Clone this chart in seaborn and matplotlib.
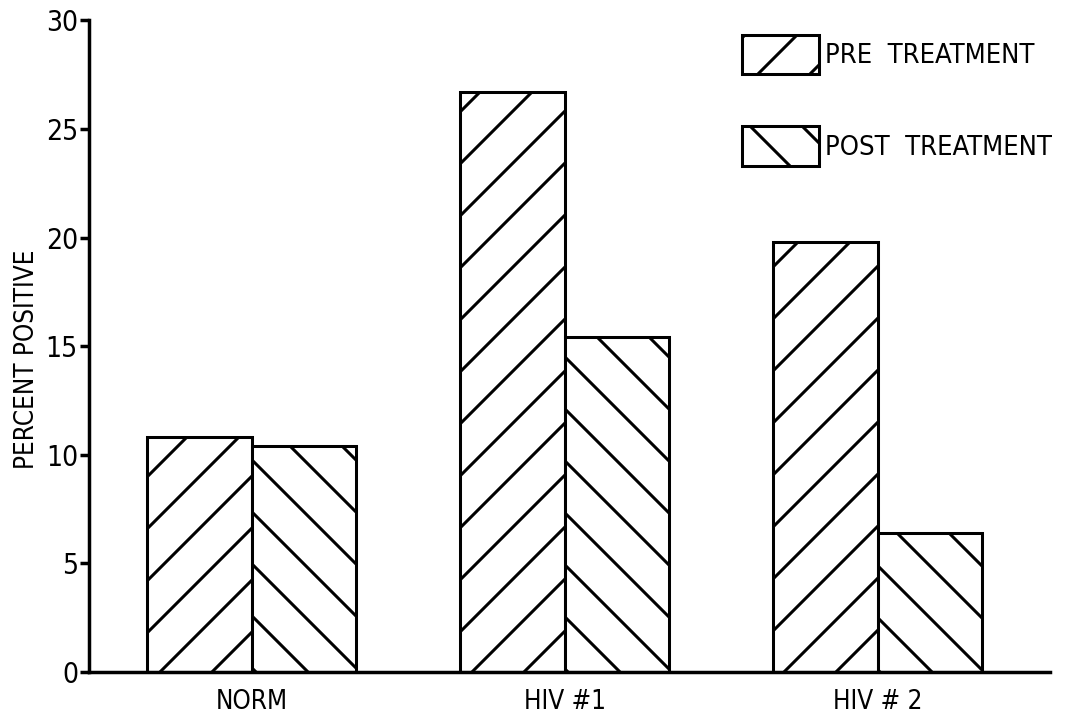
import numpy as np
import pandas as pd
import matplotlib
matplotlib.use('Agg')
import matplotlib.pyplot as plt
import seaborn as sns

groups = ['NORM', 'HIV #1', 'HIV # 2']
treatments = ['PRE  TREATMENT', 'POST  TREATMENT']
pre_values = [10.8, 26.7, 19.8]
post_values = [10.4, 15.4, 6.4]

df = pd.DataFrame({
    'group': groups * 2,
    'treatment': [treatments[0]] * 3 + [treatments[1]] * 3,
    'percent': pre_values + post_values,
})

sns.set_style('ticks')
plt.rcParams['font.family'] = ['DejaVu Sans']
plt.rcParams['font.stretch'] = 'condensed'
plt.rcParams['text.color'] = 'black'
plt.rcParams['xtick.color'] = 'black'
plt.rcParams['ytick.color'] = 'black'
plt.rcParams['axes.labelcolor'] = 'black'
plt.rcParams['hatch.linewidth'] = 0.7
plt.rcParams['hatch.color'] = 'black'

# high dpi so the hatch tile gives wide-spaced lines like the scan
DPI = 312
fig = plt.figure(figsize=(1070 / DPI, 724 / DPI), dpi=DPI)
ax = fig.add_axes([0.083, 0.0718, 0.898, 0.9002])

sns.barplot(data=df, x='group', y='percent', hue='treatment', order=groups,
            hue_order=treatments, width=0.67, color='white', saturation=1,
            edgecolor='black', linewidth=0.7, errorbar=None, legend=False, ax=ax)

hatches = ['//', '\\\\']
for cont, h in zip(ax.containers, hatches):
    for bar in cont:
        bar.set_facecolor('white')
        bar.set_hatch(h)

ax.set_xlim(-0.52, 2.55)
ax.set_ylim(0, 30)
ax.set_yticks([0, 5, 10, 15, 20, 25, 30])
ax.set_xlabel('')
ax.set_ylabel('PERCENT POSITIVE', fontsize=6)
ax.yaxis.set_label_coords(-0.051, 0.48)
sns.despine(ax=ax)
for s in ['left', 'bottom']:
    ax.spines[s].set_linewidth(0.8)
    ax.spines[s].set_color('black')
ax.tick_params(axis='y', length=2.0, width=0.8, labelsize=6.5, pad=0.5)
ax.tick_params(axis='x', length=0, labelsize=6, pad=4)

ax.legend(handles=list(ax.containers), labels=treatments, loc='upper left',
          bbox_to_anchor=(0.693, 0.952), bbox_transform=fig.transFigure,
          frameon=False, fontsize=6.3, handlelength=2.85, handleheight=1.85,
          labelspacing=1.9, handletextpad=0.2, borderpad=0, borderaxespad=0)

fig.savefig('out.png', dpi=DPI)
